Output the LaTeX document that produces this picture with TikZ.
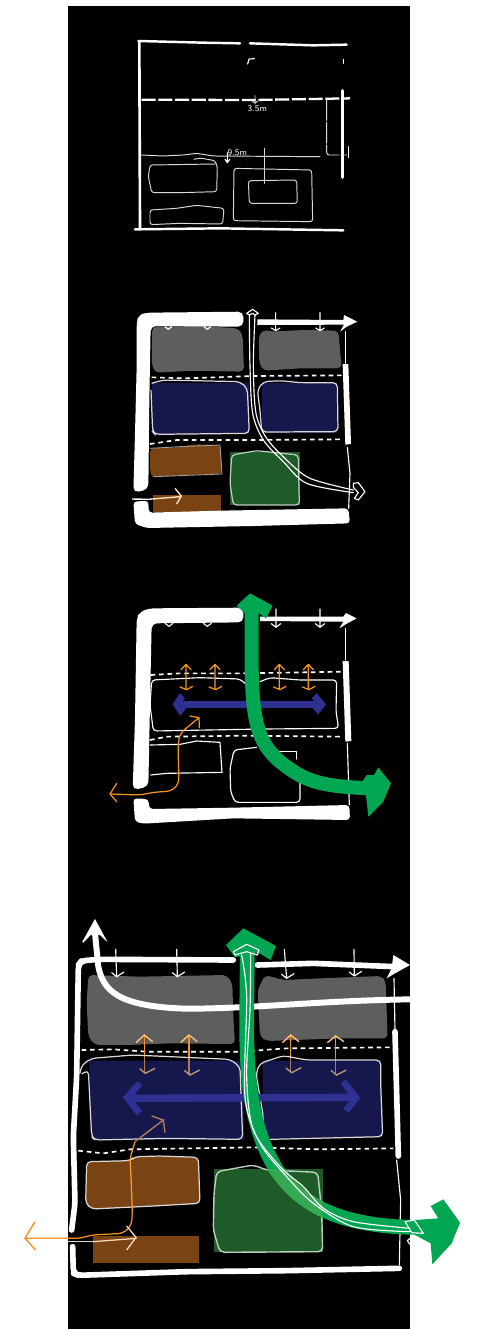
\documentclass[tikz,border=0pt]{standalone}
\usepackage{xcolor}
\usepackage{tikz}
\usetikzlibrary{calc}

\definecolor{sitegrey}{HTML}{5E5E5E}
\definecolor{sitenavy}{HTML}{16184D}
\definecolor{sitebrown}{HTML}{7A4314}
\definecolor{sitegreen}{HTML}{1F5B28}
\definecolor{flowgreen}{HTML}{00A651}
\definecolor{flowgreenlight}{HTML}{34A853}
\definecolor{flowblue}{HTML}{2E3192}
\definecolor{floworange}{HTML}{F7941D}

\tikzset{
    sketch/.style={draw=white, line width=0.65pt, line cap=round, line join=round},
    sketchfine/.style={draw=white!85!black, line width=0.55pt, line cap=round, line join=round, rounded corners=1.5pt},
    boldstroke/.style={draw=white, line width=#1, line cap=round, line join=round},
    setback/.style={draw=white, dashed, dash pattern=on 2.6pt off 2.2pt, line width=0.95pt},
    setbacklong/.style={draw=white, dashed, dash pattern=on 8pt off 1.5pt, line width=1.3pt},
    plotedge/.style={draw=white!85!black, line width=0.7pt, line join=round, rounded corners=2.5pt},
    orangeline/.style={draw=floworange, line width=0.7pt, line cap=round, line join=round},
    dimtext/.style={white, font=\sffamily\fontsize{5}{5}\selectfont, inner sep=0pt},
    zone/.style={rounded corners=2.5pt},
}
\newcommand{\greenroute}{(682,130) -- (680,330) .. controls (680,500) and (690,650) .. (770,780) .. controls (820,850) and (910,950) .. (1190,952)}

\begin{document}
\begin{tikzpicture}[x=0.02cm, y=-0.02cm]
\useasboundingbox (0,0) rectangle (477,1329);
\fill[black] (68,6) rectangle (409.5,1329);

% Panel 1 - site limits
\begin{scope}[shift={(120,30)}, scale=1/3]
    \draw[boldstroke=1.4pt] (55,33) -- (250,38) -- (360,40);
    \draw[boldstroke=1.4pt] (390,40) -- (580,46) -- (680,44);
    \draw[boldstroke=1.5pt] (58,33) -- (60,598);
    \draw[boldstroke=1.4pt] (45,598) -- (300,595) -- (670,601);
    \draw[boldstroke=1.8pt] (667,182) -- (667,442);
    \draw[setbacklong] (65,209) -- (400,210) -- (690,205);
    \draw[sketch] (670,88) -- (670,100);
    \draw[sketch] (383,102) -- (387,87) -- (403,86);
    % Offsets
    \draw[sketchfine, dash pattern=on 12pt off 1pt] (620,208) -- (620,375) -- (680,375);
    \draw[sketch] (685,350) -- (685,382);
    \draw[sketchfine] (405,197) -- (405,222) (397,213) -- (405,222) -- (413,213);
    \node[dimtext] (frontgap) at (412,235) {3.5m};
    \draw[sketch] (322,368) -- (322,398) (315,388) -- (322,398) -- (329,388);
    \node[dimtext] (sidegap) at (352,367) {9.5m};
    \draw[sketchfine] (65,375) -- (130,378) -- (190,375) -- (230,370) -- (280,378) -- (600,380);
    % Volumes
    \draw[sketchfine] (222,388) -- (240,384) -- (285,392) -- (292,410) -- (290,485) -- (180,488) -- (95,488) -- (85,440) -- (90,405) -- (285,402);
    \draw[sketchfine] (90,540) -- (170,535) -- (230,526) -- (312,535) -- (308,582) -- (180,580) -- (90,584) -- cycle;
    \draw[sketchfine] (342,415) -- (575,420) -- (578,575) -- (340,572) -- cycle;
    \draw[sketchfine] (385,452) -- (530,450) -- (532,520) -- (388,520) -- cycle;
    \draw[sketchfine] (432,355) -- (432,460);
\end{scope}

% Panel 2 - zoning
\begin{scope}[shift={(120,300)}, scale=1/3]
    % Zones
    \fill[sitegrey, zone] (97,80) -- (240,78) -- (355,85) -- (368,105) -- (372,215) -- (220,212) -- (105,218) -- (95,190) -- cycle;
    \fill[sitegrey, zone] (430,88) -- (450,95) -- (550,90) -- (655,92) -- (665,205) -- (540,205) -- (430,212) -- (418,190) -- (416,110) -- cycle;
    \fill[sitenavy] (95,248) rectangle (388,402);
    \fill[sitenavy] (425,248) rectangle (652,398);
    \fill[sitebrown, zone] (90,445) -- (180,442) -- (220,433) -- (302,435) -- (306,522) -- (200,525) -- (100,532) -- (90,520) -- cycle;
    \fill[sitebrown] (100,586) rectangle (302,637);
    \fill[sitegreen] (330,457) rectangle (540,615);
    \draw[plotedge] (95,250) -- (130,240) -- (360,245) -- (382,265) -- (388,400) -- (105,403) -- (98,395) -- (93,270);
    \draw[plotedge] (425,396) -- (420,330) -- (412,270) -- (430,245) -- (480,242) -- (540,248) -- (652,248) -- (654,395) -- cycle;
    \draw[white!70!sitegreen, line width=0.7pt, rounded corners=2pt] (335,465) -- (410,452) -- (535,465) -- (538,615) -- (340,615) -- (330,550) -- cycle;
    \draw[sitegrey!60!white, line width=0.5pt] (90,445) -- (180,440) -- (300,435) -- (306,522) -- (100,530);
    % Frame
    \fill[white, rounded corners=3pt] (370,35) -- (80,38) -- (55,45) -- (50,70) -- (50,200) -- (45,400) -- (40,578) -- (85,568) -- (88,300) -- (92,78) -- (370,80) -- cycle;
    \fill[white, rounded corners=2pt] (40,605) -- (85,602) -- (86,638) -- (300,632) -- (685,625) -- (690,670) -- (400,678) -- (80,684) -- (45,672) -- cycle;
    \fill[white] (412,58) -- (670,60) -- (672,45) -- (712,65) -- (680,80) -- (660,95) -- (672,74) -- (412,75) -- cycle;
    \fill[white] (668,192) -- (685,192) -- (693,432) -- (676,434) -- cycle;
    \draw[sketch] (677,95) -- (677,190);
    \draw[sketch] (682,442) -- (690,520) -- (686,625);
    % Setbacks
    \draw[setback] (95,232) -- (200,235) -- (400,228) -- (670,226);
    \draw[setback] (90,432) -- (170,420) -- (400,420) -- (670,418);
    % Small arrows
    \foreach \x in {145,262} {
        \draw[sketch] (\x-10,80) -- (\x,88) -- (\x+10,80);
    }
    \foreach \x/\ytop in {467/38,600/38} {
        \draw[sketch] (\x,\ytop) -- (\x,90) (\x-13,84) -- (\x,92) -- (\x+13,84);
    }
    % Entry
    \draw[white, line width=0.8pt] (36,597) -- (85,598);
    \draw[white!70!floworange, line width=0.8pt] (85,598) -- (180,590) (165,565) -- (184,588) -- (170,612);
    % Double line
    \draw[sketch] (380,40) -- (398,28) -- (415,40) -- (405,45) -- (398,40) -- (388,45) -- cycle;
    \draw[sketch] plot[smooth] coordinates {(388,45) (390,200) (398,340) (430,420) (490,485) (560,550) (700,578)};
    \draw[sketch] plot[smooth] coordinates {(405,45) (400,200) (408,340) (440,415) (500,480) (570,535) (700,570)};
    \draw[sketch] (700,550) -- (715,548) -- (735,575) -- (715,600) -- (703,595) -- (715,578) -- (700,562) -- cycle;
\end{scope}

% Panel 3 - flows
\begin{scope}[shift={(100,585)}, scale=1/3]
    % Outlines
    \draw[sketch, rounded corners=2pt] (435,295) -- (420,282) -- (300,278) -- (155,285) -- (150,360) -- (160,438) -- (490,432) -- (716,430) -- (708,380) -- (710,285) -- (600,285) -- (510,278) -- (480,290);
    \draw[sketch] (150,480) -- (240,478) -- (290,468) -- (360,472) -- (366,562) -- (200,565) -- (152,570);
    \draw[sketch, rounded corners=2pt] (470,487) -- (402,495) -- (390,550) -- (392,620) -- (405,652) -- (600,652) -- (600,590);
    \draw[sketch] (530,500) -- (590,500) -- (590,522);
    % Frame
    \fill[white, rounded corners=3pt] (430,68) -- (150,70) -- (120,80) -- (110,100) -- (105,400) -- (98,615) -- (145,605) -- (155,115) -- (430,112) -- cycle;
    \fill[white, rounded corners=2pt] (100,640) -- (145,642) -- (148,672) -- (400,668) -- (748,660) -- (750,705) -- (400,700) -- (130,716) -- (105,710) -- cycle;
    \fill[white] (480,95) -- (730,95) -- (738,84) -- (770,100) -- (742,115) -- (718,130) -- (730,110) -- (480,108) -- cycle;
    \fill[white] (728,228) -- (746,228) -- (754,468) -- (736,470) -- cycle;
    \draw[sketch] (737,130) -- (737,225);
    \draw[sketch] (742,475) -- (748,660);
    % Setbacks
    \draw[setback] (152,270) -- (240,265) -- (430,265) -- (730,260);
    \draw[setback] (150,465) -- (200,455) -- (440,452) -- (730,455);
    % Small arrows
    \foreach \x in {207,322} {
        \draw[sketch] (\x-12,115) -- (\x,124) -- (\x+12,115);
    }
    \foreach \x in {528,660} {
        \draw[sketch] (\x,72) -- (\x,125) (\x-14,116) -- (\x,127) -- (\x+14,116);
    }
    % Orange double arrows
    \foreach \x in {258,345,538,625} {
        \draw[orangeline] (\x,240) -- (\x,312) (\x-15,254) -- (\x,238) -- (\x+15,254) (\x-18,306) -- (\x+2,314) -- (\x+20,304);
    }
    % Blue flow
    \draw[flowblue, line width=4pt] (240,359) -- (660,359);
    \fill[flowblue] (240,324) -- (255,340) -- (240,357) -- (258,372) -- (240,392) -- (218,358) -- cycle;
    \fill[flowblue] (650,324) -- (678,358) -- (655,388) -- (638,370) -- (652,357) -- (635,340) -- cycle;
    % Orange path
    \draw[orangeline, rounded corners=3pt] (30,627) -- (120,630) -- (160,622) -- (215,618) -- (237,595) -- (234,480) -- (240,445) -- (297,398);
    \draw[orangeline] (270,393) -- (297,398) -- (298,428);
    \draw[orangeline] (50,595) -- (30,627) -- (50,650);
    % Green flow
    \draw[flowgreen, line width=8pt] (455,80) -- (455,250) .. controls (458,400) and (470,470) .. (540,530) .. controls (610,585) and (650,605) .. (820,610);
    \fill[flowgreen] (410,62) -- (450,25) -- (518,62) -- (498,100) -- (470,80) -- (435,85) -- cycle;
    \fill[flowgreen] (835,547) -- (873,595) -- (850,650) -- (805,695) -- (798,630) -- (770,615) -- (800,570) -- (822,570) -- cycle;
\end{scope}

% Panel 4 - synthesis
\begin{scope}[shift={(20,910)}, scale=1/3]
    % Zones
    \fill[sitegrey, zone] (205,195) -- (360,200) -- (620,195) -- (637,220) -- (640,320) -- (645,402) -- (450,400) -- (320,405) -- (225,405) -- (205,380) -- (200,280) -- cycle;
    \fill[sitegrey, zone] (735,195) -- (790,210) -- (900,205) -- (1085,198) -- (1097,215) -- (1103,385) -- (960,385) -- (740,393) -- (720,380) -- (713,240) -- cycle;
    \fill[sitenavy] (207,452) -- (672,452) -- (672,688) -- (215,690) -- cycle;
    \fill[sitenavy] (728,452) -- (1082,452) -- (1088,680) -- (728,685) -- cycle;
    \fill[sitebrown, zone] (200,755) -- (330,752) -- (345,740) -- (420,738) -- (535,742) -- (540,880) -- (400,888) -- (215,897) -- (197,880) -- cycle;
    \fill[sitebrown] (218,978) rectangle (536,1060);
    \fill[sitegreen] (582,778) rectangle (908,1026);
    % Setbacks
    \draw[setback] (185,420) -- (280,418) -- (380,425) -- (660,425) -- (800,415) -- (1115,412);
    \draw[setback] (175,722) -- (250,730) -- (330,718) -- (700,712) -- (900,718) -- (1120,715);
    % Orange double arrows
    \foreach \x/\ya/\yb in {373/375/490, 507/375/495, 812/375/488, 947/378/495} {
        \draw[floworange, line width=0.7pt] (\x,\ya) -- (\x,440);
        \draw[floworange!55!sitenavy!80!white, line width=0.7pt] (\x,440) -- (\x,\yb);
        \draw[floworange!60!white, line width=0.8pt] (\x-25,398) -- (\x,\ya) -- (\x+25,395);
        \draw[floworange!50!white!70!sitenavy, line width=0.8pt] (\x-14,\yb-14) -- (\x+3,\yb) -- (\x+32,\yb-15);
    }
    % Outlines
    \draw[plotedge] (180,490) -- (185,465) -- (215,445) -- (340,435) -- (630,448) -- (660,470) -- (668,688) -- (440,685) -- (225,690) -- (215,680) -- (205,480) -- (185,492);
    \draw[plotedge] (725,680) -- (730,620) -- (708,490) -- (720,460) -- (790,437) -- (860,450) -- (1082,450) -- (1082,520) -- (1088,680) -- (750,688);
    \draw[plotedge] (200,755) -- (330,752) -- (345,740) -- (420,738) -- (535,742) -- (540,880) -- (400,888) -- (215,897) -- (197,880) -- cycle;
    \draw[white!70!sitegreen, line width=0.8pt, rounded corners=2.5pt] (590,785) -- (700,765) -- (740,780) -- (893,787) -- (905,900) -- (908,1025) -- (600,1027) -- (580,960) -- (582,850) -- cycle;
    % Frame
    \draw[boldstroke=3.2pt, rounded corners=3pt] (640,150) -- (240,148) -- (185,152) -- (175,165) -- (170,500) -- (160,680) -- (165,880) -- (155,960);
    \draw[boldstroke=3.2pt, rounded corners=3pt] (158,1010) -- (160,1090) -- (175,1096) -- (500,1085) -- (800,1082) -- (1138,1075);
    \draw[boldstroke=3.2pt] (712,165) -- (880,160) -- (1125,170);
    \fill[white] (1120,135) -- (1170,165) -- (1125,190) -- (1100,205) -- (1115,175) -- cycle;
    \draw[boldstroke=3.2pt] (1125,365) -- (1135,738);
    \draw[sketch] (1122,205) -- (1125,360);
    \draw[sketch] (1130,750) -- (1142,870) -- (1138,1065);
    % Small arrows
    \foreach \xa/\xb/\yb in {287/290/200, 470/472/200, 793/800/205, 1002/1003/198} {
        \draw[sketch] (\xa,118) -- (\xb,\yb) (\xb-15,\yb-12) -- (\xb,\yb) (\xb,\yb) -- (\xb+22,\yb-14);
    }
    % Blue flow
    \draw[flowblue, line width=4.2pt] (330,565) -- (1000,562);
    \draw[flowblue, line width=3.8pt, line join=miter] (360,520) -- (322,562) -- (358,610);
    \draw[flowblue, line width=3.8pt, line join=miter] (970,515) -- (1008,564) -- (978,602);
    % White route
    \draw[boldstroke=3.4pt] (225,70) -- (235,170) .. controls (250,240) and (290,290) .. (500,296) .. controls (700,296) and (900,272) .. (1170,268);
    \fill[white] (187,95) -- (225,27) -- (263,97) -- (240,75) -- (212,75) -- (190,98) -- cycle;
    % Green flow
    \draw[flowgreen, line width=8.4pt] \greenroute;
    \begin{scope}
        \clip (582,778) rectangle (908,1026);
        \draw[flowgreenlight, line width=8.4pt] \greenroute;
    \end{scope}
    \fill[flowgreen] (618,105) -- (670,55) -- (768,108) -- (752,150) -- (715,128) -- (645,142) -- cycle;
    \fill[flowgreen] (1270,868) -- (1320,938) -- (1295,1000) -- (1237,1063) -- (1232,1000) -- (1185,975) -- (1185,930) -- (1255,925) -- (1232,888) -- cycle;
    % Double line
    \draw[sketch] (640,125) -- (680,103) -- (717,120) -- (712,135) -- (680,125) -- (645,135) -- cycle;
    \draw[sketch] plot[smooth] coordinates {(665,135) (680,260) (675,560) (720,700) (800,800) (880,880) (1000,950) (1170,965)};
    \draw[sketch] plot[smooth] coordinates {(692,130) (690,300) (680,500) (700,660) (780,770) (850,830) (910,895) (1000,935) (1170,955)};
    \draw[sketch] (1155,935) -- (1183,930) -- (1210,970) -- (1175,968) -- (1155,935);
    \draw[sketch] (1170,985) -- (1162,992) -- (1170,1003);
    % Orange path
    \draw[floworange, line width=0.7pt, rounded corners=3pt] (15,985) -- (180,985) -- (215,975) -- (310,970) -- (335,945) -- (337,900);
    \draw[floworange!90!white, line width=0.7pt, rounded corners=3pt] (337,900) -- (333,800) -- (330,745) -- (345,695);
    \draw[floworange!55!sitenavy!80!white, line width=0.8pt] (345,695) -- (430,630) -- (395,618) (430,630) -- (435,668);
    \draw[floworange, line width=0.8pt] (45,935) -- (15,985) -- (47,1020);
    % Entry
    \draw[white!85!black, line width=0.7pt] (145,995) -- (218,995);
    \draw[white!70!floworange, line width=0.7pt] (218,995) -- (350,985) (320,948) -- (348,982) -- (320,1020);
\end{scope}
\end{tikzpicture}
\end{document}
